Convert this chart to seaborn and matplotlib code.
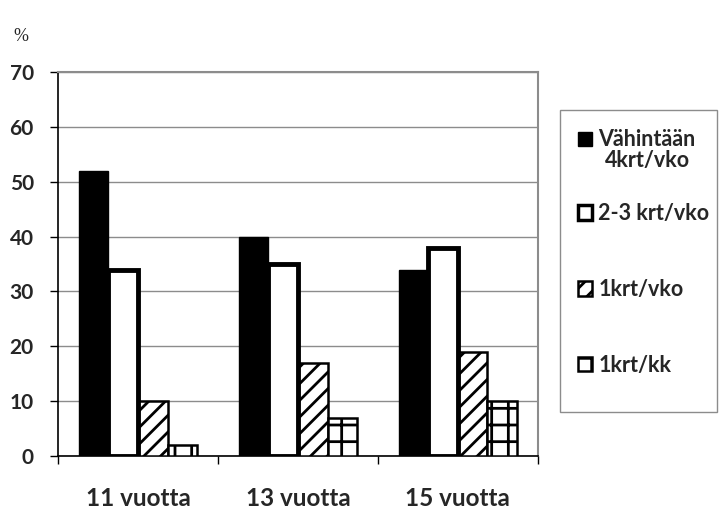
import matplotlib
matplotlib.use("Agg")
import matplotlib.pyplot as plt
from matplotlib.patches import Rectangle, Patch
import seaborn as sns
import pandas as pd

ages = ["11 vuotta", "13 vuotta", "15 vuotta"]
freqs = ["Vähintään\n4krt/vko", "2-3 krt/vko", "1krt/vko", "1krt/kk"]
vahintaan_4 = [52, 40, 34]
krt_2_3 = [34, 35, 38]
krt_1_vko = [10, 17, 19]
krt_1_kk = [2, 7, 10]
y_ticks = [0, 10, 20, 30, 40, 50, 60, 70]

rows = []
for f, vals in zip(freqs, [vahintaan_4, krt_2_3, krt_1_vko, krt_1_kk]):
    for a, v in zip(ages, vals):
        rows.append({"age": a, "freq": f, "pct": v})
df = pd.DataFrame(rows)

sns.set_theme(style="white")
plt.rcParams["font.family"] = ["Lato", "DejaVu Sans"]
plt.rcParams["hatch.linewidth"] = 2.0

fig = plt.figure(figsize=(7.19, 5.08), dpi=100)
ax = fig.add_axes([0.0807, 0.1024, 0.748 - 0.0807, 0.858 - 0.1024])

palette = ["black", "white", "white", "white"]
sns.barplot(data=df, x="age", y="pct", hue="freq", hue_order=freqs,
            order=ages, palette=palette, saturation=1, width=0.74, gap=0,
            ax=ax, legend=False, zorder=3)

styles = [
    dict(fc="black", ec="black", lw=1.0, hatch=None, z=3),
    dict(fc="white", ec="black", lw=3.5, hatch=None, z=4),
    dict(fc="white", ec="black", lw=1.8, hatch="//", z=3),
    dict(fc="white", ec="black", lw=1.8, hatch="+", z=3),
]
for cont, st in zip(ax.containers, styles):
    for bar in cont:
        bar.set_facecolor(st["fc"])
        bar.set_edgecolor(st["ec"])
        bar.set_linewidth(st["lw"])
        bar.set_zorder(st["z"])
        if st["hatch"]:
            bar.set_hatch(st["hatch"])

ax.set_ylim(0, 70)
ax.set_xlim(-0.5, 2.5)
ax.set_yticks(y_ticks)
ax.set_yticklabels([str(t) for t in y_ticks], fontsize=15, fontweight="bold")
ax.yaxis.grid(True, color="#8c8c8c", lw=1.0, zorder=0)
ax.set_axisbelow(True)
ax.set_xlabel("")
ax.set_ylabel("")

ax.set_xticks([0, 1, 2])
ax.set_xticklabels(ages, fontsize=17.5, fontweight="bold")
ax.set_xticks([-0.5, 0.5, 1.5, 2.5], minor=True)
ax.tick_params(axis="x", which="major", length=0, pad=22)
ax.tick_params(axis="x", which="minor", length=5.5, width=1, color="black",
               direction="out", bottom=True)
ax.tick_params(axis="y", length=5.5, width=1, color="black", direction="out",
               left=True, pad=12)

for s in ["left", "bottom"]:
    ax.spines[s].set_color("black")
    ax.spines[s].set_linewidth(1.2)
for s in ["top", "right"]:
    ax.spines[s].set_color("#8c8c8c")
    ax.spines[s].set_linewidth(1.5)

fig.text(0.019, 0.928, "%", fontsize=13, family=["Liberation Serif"],
         ha="left", va="center")

# legend frame
fig.patches.append(Rectangle((560 / 719, (508 - 412) / 508),
                             (717 - 560) / 719, (412 - 110) / 508,
                             transform=fig.transFigure, fill=False,
                             ec="#8c8c8c", lw=1.0))

handles = [Patch(facecolor=st["fc"], edgecolor="black",
                 linewidth=min(st["lw"], 2.5), hatch=st["hatch"])
           for st in styles]
leg_kw = dict(loc="upper left", frameon=False,
              prop={"size": 15.5, "weight": "bold"},
              handlelength=0.65, handleheight=0.65, handletextpad=0.3,
              borderpad=0, borderaxespad=0)

# first entry (two-line label, handle beside the first line)
leg1 = fig.legend(handles[:1], freqs[:1],
                  bbox_to_anchor=(578 / 719, (508 - 129) / 508), **leg_kw)
for t in leg1.get_texts():
    t.set_multialignment("center")
    t.set_linespacing(1.0)
h0 = leg1.legend_handles[0]
h0.set_y(h0.get_y() + 0.55 * 15.5)

# remaining entries
leg2 = fig.legend(handles[1:], freqs[1:], labelspacing=2.55,
                  bbox_to_anchor=(578 / 719, (508 - 203) / 508), **leg_kw)

fig.savefig("out.png", dpi=100)
